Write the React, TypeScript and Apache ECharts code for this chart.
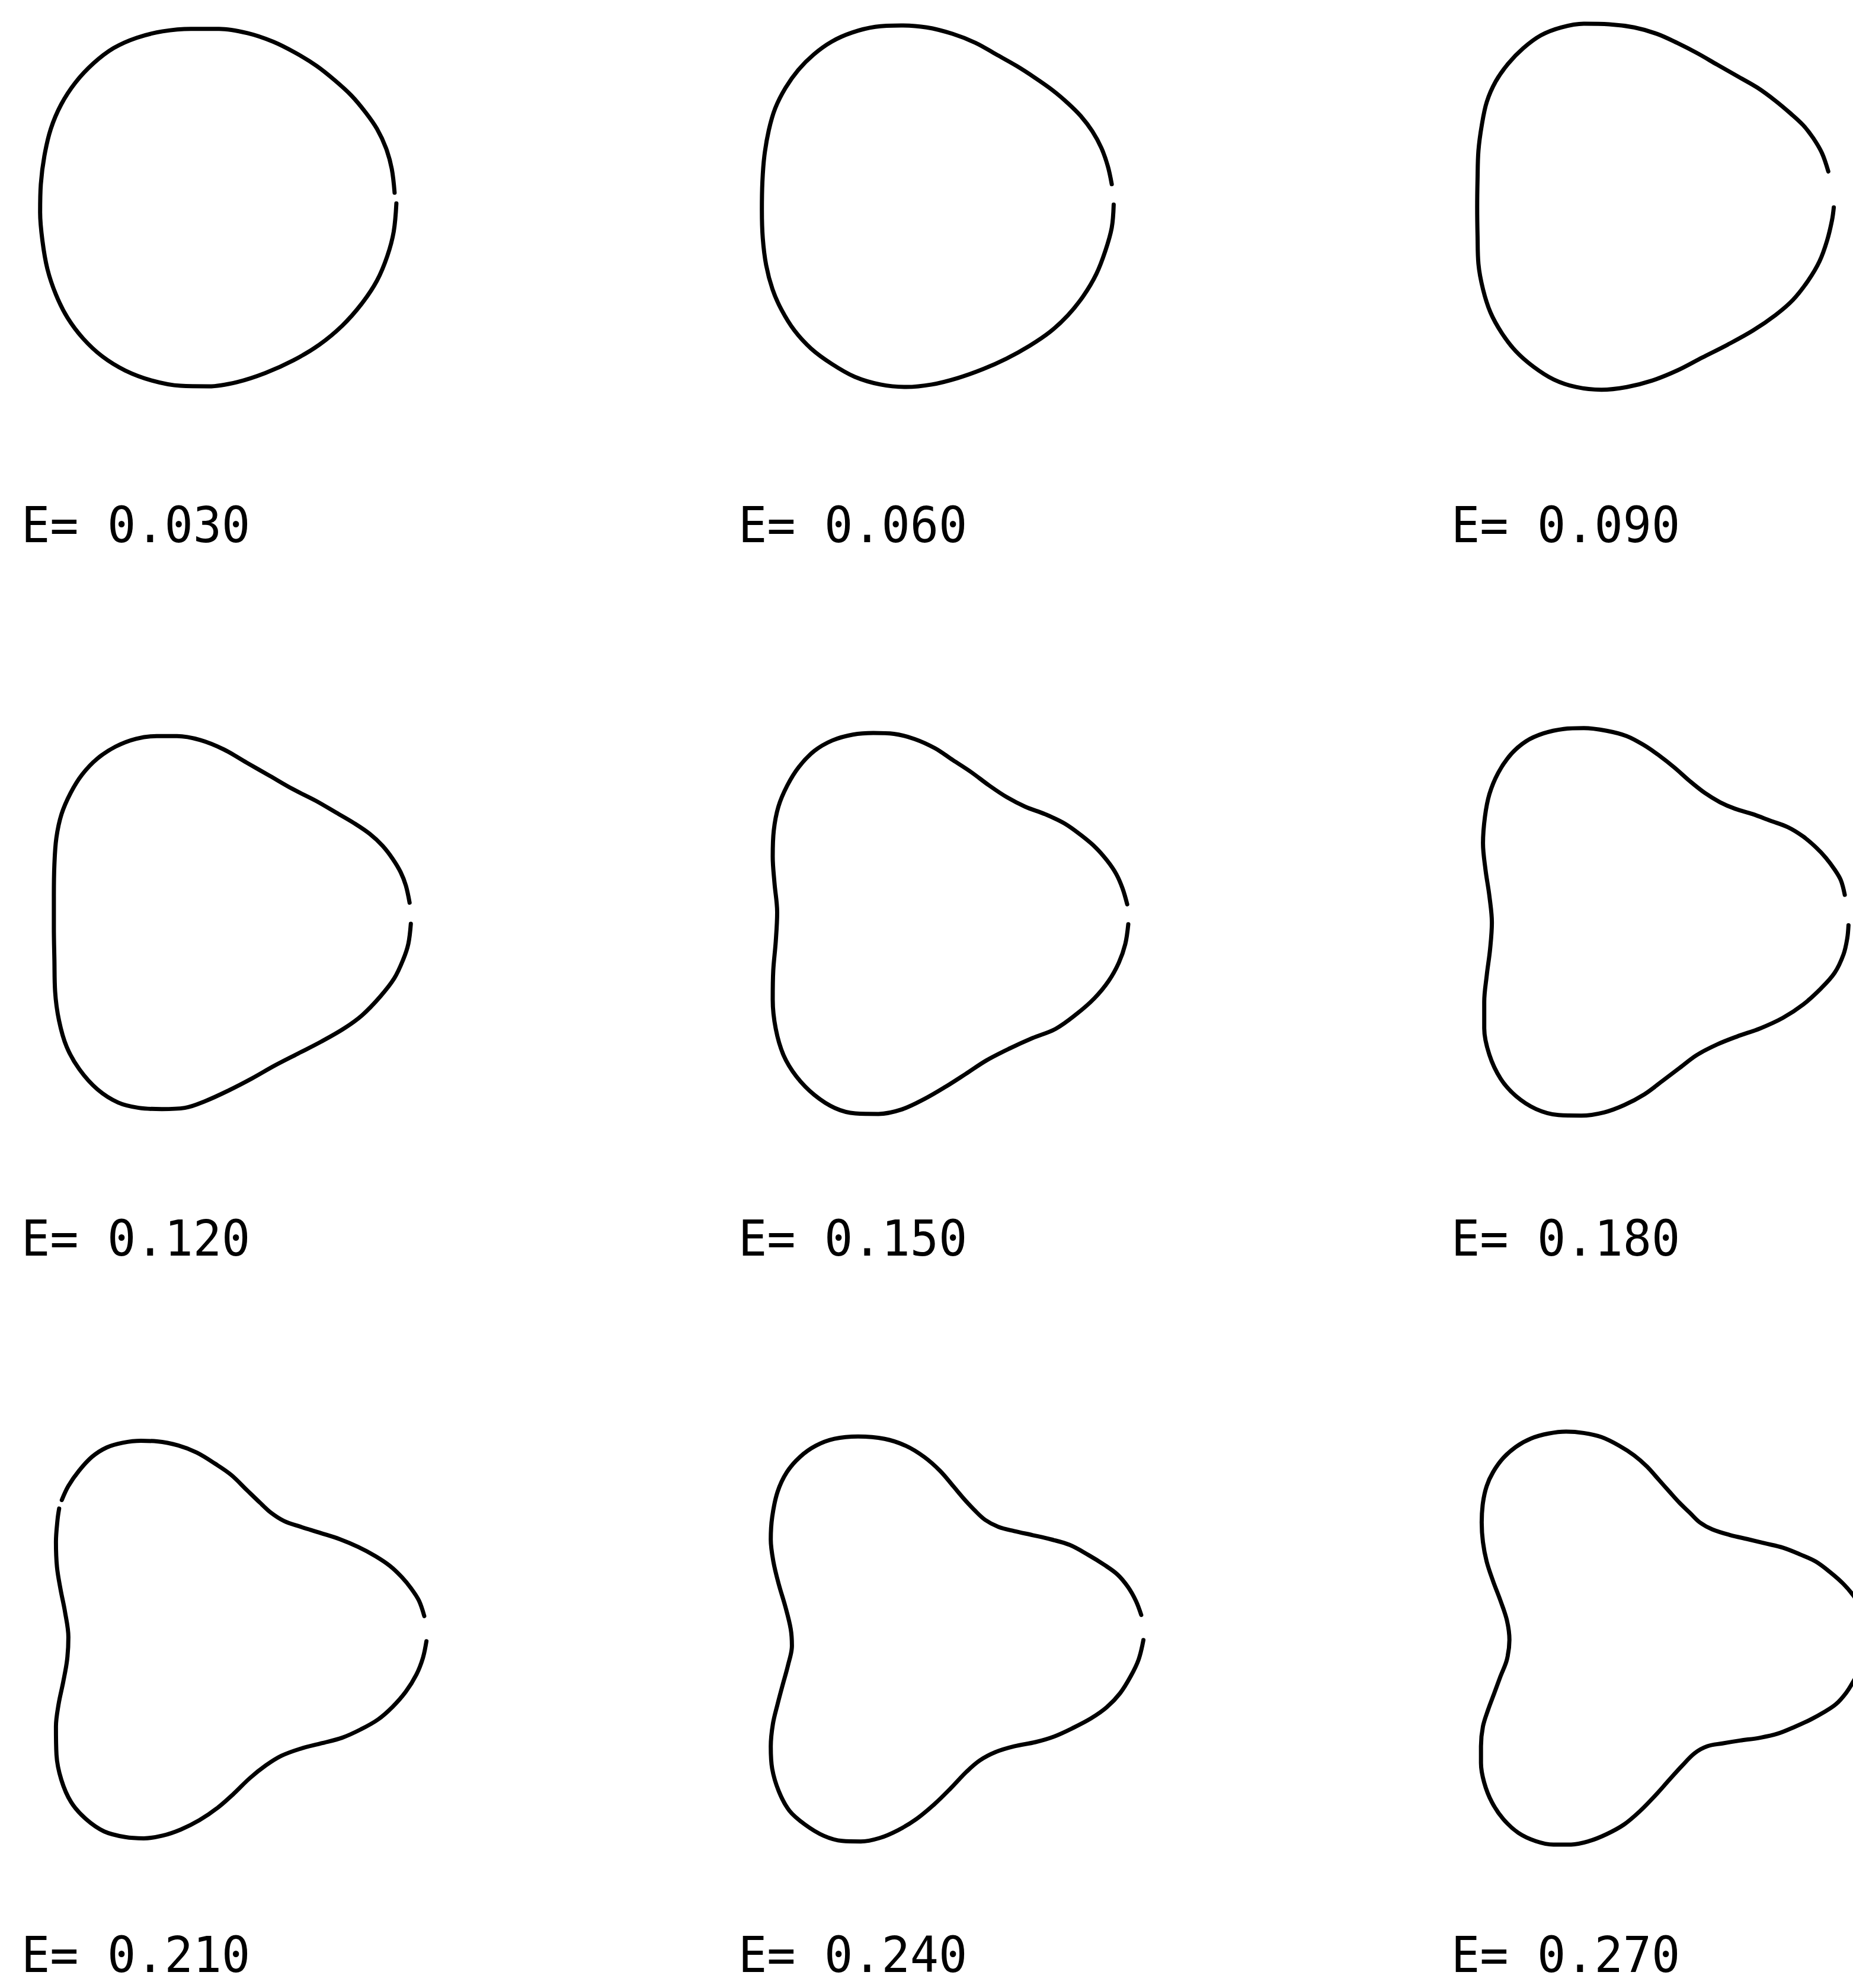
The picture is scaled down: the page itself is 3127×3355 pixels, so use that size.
import React, { useEffect, useRef } from "react";
import * as echarts from "echarts";

// Deformation parameter of each contour, one panel per value
const energies = [0.03, 0.06, 0.09, 0.12, 0.15, 0.18, 0.21, 0.24, 0.27];
const labels = energies.map((e) => `E= ${e.toFixed(3)}`);

// Contour points [x, y]; each trace starts just above the +x axis and runs counter-clockwise.
// A "-" entry marks a break in the pen stroke.
const contourE030 = [
  [0.993, 0.079], [0.977, 0.214], [0.945, 0.329], [0.894, 0.438], [0.829, 0.532], [0.75, 0.626],
  [0.656, 0.712], [0.555, 0.792], [0.439, 0.864], [0.309, 0.929], [0.165, 0.977], [0.006, 1.001],
  [-0.153, 1.001], [-0.312, 0.987], [-0.457, 0.951], [-0.587, 0.893], [-0.702, 0.806], [-0.803, 0.698],
  [-0.883, 0.575], [-0.941, 0.438], [-0.977, 0.286], [-0.997, 0.127], [-1.001, -0.032], [-0.988, -0.191],
  [-0.96, -0.35], [-0.912, -0.494], [-0.847, -0.624], [-0.76, -0.74], [-0.652, -0.841], [-0.522, -0.921],
  [-0.37, -0.978], [-0.211, -1.007], [-0.052, -1.01], [0.107, -0.986], [0.266, -0.935], [0.425, -0.863],
  [0.569, -0.776], [0.699, -0.668], [0.808, -0.545], [0.894, -0.415], [0.952, -0.277], [0.988, -0.14],
  [1.003, 0.019],
];

const contourE060 = [
  [0.977, 0.124], [0.955, 0.225], [0.919, 0.327], [0.868, 0.421], [0.803, 0.507], [0.731, 0.579],
  [0.645, 0.652], [0.543, 0.724], [0.442, 0.789], [0.327, 0.854], [0.211, 0.919], [0.081, 0.97],
  [-0.064, 1.006], [-0.208, 1.017], [-0.353, 1.009], [-0.483, 0.977], [-0.598, 0.926], [-0.699, 0.854],
  [-0.786, 0.767], [-0.858, 0.666], [-0.916, 0.551], [-0.952, 0.428], [-0.977, 0.283], [-0.988, 0.139],
  [-0.991, -0.02], [-0.986, -0.179], [-0.967, -0.331], [-0.931, -0.468], [-0.88, -0.584], [-0.808, -0.699],
  [-0.714, -0.801], [-0.598, -0.887], [-0.468, -0.96], [-0.324, -1.003], [-0.179, -1.017], [-0.035, -1.003],
  [0.11, -0.967], [0.254, -0.916], [0.384, -0.858], [0.514, -0.786], [0.63, -0.707], [0.731, -0.613],
  [0.818, -0.504], [0.89, -0.382], [0.941, -0.251], [0.977, -0.121], [0.988, 0.009],
];

const contourE090 = [
  [0.971, 0.199], [0.936, 0.301], [0.886, 0.387], [0.829, 0.46], [0.759, 0.525], [0.673, 0.597],
  [0.574, 0.669], [0.461, 0.734], [0.347, 0.799], [0.234, 0.864], [0.121, 0.922], [0.007, 0.973],
  [-0.121, 1.009], [-0.262, 1.027], [-0.404, 1.03], [-0.532, 1.009], [-0.645, 0.965], [-0.744, 0.893],
  [-0.829, 0.806], [-0.9, 0.705], [-0.95, 0.59], [-0.978, 0.46], [-0.997, 0.315], [-1.002, 0.156],
  [-1.004, -0.003], [-1.002, -0.162], [-0.997, -0.321], [-0.971, -0.465], [-0.929, -0.595], [-0.865, -0.711],
  [-0.787, -0.812], [-0.688, -0.899], [-0.574, -0.971], [-0.447, -1.014], [-0.305, -1.029], [-0.163, -1.014],
  [-0.021, -0.978], [0.121, -0.921], [0.262, -0.848], [0.404, -0.776], [0.546, -0.697], [0.673, -0.61],
  [0.773, -0.523], [0.858, -0.415], [0.922, -0.306], [0.964, -0.191], [0.992, -0.075], [1.002, -0.003],
];

const contourE120 = [
  [0.994, 0.112], [0.973, 0.208], [0.944, 0.283], [0.9, 0.357], [0.842, 0.432], [0.77, 0.499],
  [0.684, 0.558], [0.582, 0.618], [0.467, 0.685], [0.337, 0.751], [0.207, 0.826], [0.077, 0.9],
  [-0.053, 0.975], [-0.184, 1.027], [-0.314, 1.049], [-0.429, 1.049], [-0.545, 1.034], [-0.66, 0.99],
  [-0.762, 0.923], [-0.848, 0.833], [-0.913, 0.729], [-0.964, 0.61], [-0.993, 0.476], [-1.004, 0.327],
  [-1.007, 0.149], [-1.007, -0.03], [-1.004, -0.208], [-1.0, -0.387], [-0.978, -0.551], [-0.935, -0.699],
  [-0.863, -0.826], [-0.762, -0.938], [-0.646, -1.012], [-0.53, -1.042], [-0.4, -1.049], [-0.27, -1.042],
  [-0.155, -1.004], [-0.025, -0.945], [0.105, -0.878], [0.236, -0.804], [0.366, -0.737], [0.496, -0.67],
  [0.626, -0.595], [0.727, -0.521], [0.828, -0.417], [0.908, -0.313], [0.958, -0.208], [0.987, -0.119],
  [1.001, -0.007],
];

const contourE150 = [
  [0.994, 0.106], [0.968, 0.195], [0.932, 0.277], [0.882, 0.351], [0.816, 0.426], [0.737, 0.493],
  [0.643, 0.56], [0.535, 0.612], [0.419, 0.656], [0.318, 0.708], [0.217, 0.775], [0.116, 0.85],
  [0.014, 0.917], [-0.087, 0.984], [-0.202, 1.036], [-0.318, 1.065], [-0.434, 1.07], [-0.549, 1.061],
  [-0.665, 1.028], [-0.766, 0.969], [-0.853, 0.879], [-0.918, 0.775], [-0.968, 0.656], [-0.994, 0.522],
  [-1.0, 0.374], [-0.99, 0.225], [-0.975, 0.061], [-0.983, -0.103], [-0.997, -0.266], [-1.0, -0.43],
  [-0.983, -0.594], [-0.939, -0.743], [-0.867, -0.862], [-0.766, -0.966], [-0.65, -1.04], [-0.535, -1.07],
  [-0.405, -1.073], [-0.275, -1.048], [-0.145, -0.988], [-0.029, -0.921], [0.087, -0.847], [0.202, -0.772],
  [0.332, -0.705], [0.462, -0.646], [0.592, -0.594], [0.708, -0.512], [0.809, -0.423], [0.889, -0.326],
  [0.947, -0.222], [0.983, -0.118], [1.0, -0.006],
];

const contourE180 = [
  [1.007, 0.153], [0.985, 0.235], [0.95, 0.295], [0.9, 0.362], [0.844, 0.421], [0.773, 0.481],
  [0.688, 0.533], [0.588, 0.57], [0.489, 0.607], [0.39, 0.637], [0.305, 0.674], [0.22, 0.726],
  [0.135, 0.793], [0.05, 0.868], [-0.035, 0.935], [-0.121, 0.994], [-0.22, 1.046], [-0.333, 1.076],
  [-0.461, 1.091], [-0.574, 1.086], [-0.688, 1.061], [-0.787, 1.016], [-0.872, 0.942], [-0.943, 0.838],
  [-0.992, 0.719], [-1.017, 0.592], [-1.028, 0.443], [-1.014, 0.295], [-0.992, 0.146], [-0.978, -0.003],
  [-0.988, -0.152], [-1.007, -0.301], [-1.021, -0.449], [-1.021, -0.598], [-0.992, -0.747], [-0.929, -0.881],
  [-0.844, -0.978], [-0.73, -1.052], [-0.603, -1.086], [-0.475, -1.089], [-0.347, -1.071], [-0.234, -1.03],
  [-0.121, -0.97], [-0.021, -0.896], [0.078, -0.821], [0.177, -0.747], [0.291, -0.688], [0.404, -0.643],
  [0.532, -0.598], [0.659, -0.539], [0.773, -0.464], [0.872, -0.375], [0.95, -0.286], [1.0, -0.182],
  [1.021, -0.092], [1.028, -0.018],
];

const contourE210: (number[] | string)[] = [
  [1.03, 0.132], [1.0, 0.219], [0.955, 0.289], [0.903, 0.352], [0.836, 0.415], [0.754, 0.47],
  [0.658, 0.521], [0.554, 0.565], [0.449, 0.599], [0.33, 0.636], [0.241, 0.667], [0.167, 0.714],
  [0.107, 0.769], [0.033, 0.84], [-0.057, 0.927], [-0.146, 0.989], [-0.25, 1.052], [-0.354, 1.092],
  [-0.473, 1.115], [-0.563, 1.118], [-0.667, 1.107], [-0.756, 1.081], [-0.838, 1.029], [-0.912, 0.95],
  [-0.972, 0.864], [-1.009, 0.785], "-", [-1.024, 0.737], [-1.033, 0.675], [-1.042, 0.549], [-1.036, 0.407],
  [-1.016, 0.282], [-0.991, 0.156], [-0.972, 0.014], [-0.979, -0.112], [-1.001, -0.238], [-1.027, -0.363],
  [-1.042, -0.489], [-1.039, -0.647], [-1.012, -0.788], [-0.957, -0.914], [-0.875, -1.008], [-0.771, -1.079],
  [-0.652, -1.111], [-0.548, -1.118], [-0.443, -1.103], [-0.339, -1.068], [-0.235, -1.016], [-0.131, -0.945],
  [-0.042, -0.867], [0.048, -0.78], [0.137, -0.709], [0.226, -0.654], [0.33, -0.615], [0.449, -0.584],
  [0.568, -0.552], [0.673, -0.505], [0.769, -0.45], [0.851, -0.379], [0.926, -0.293], [0.985, -0.198],
  [1.022, -0.104], [1.042, -0.009],
];

const contourE240 = [
  [1.033, 0.135], [1.003, 0.214], [0.958, 0.293], [0.899, 0.363], [0.824, 0.418], [0.735, 0.473],
  [0.631, 0.529], [0.527, 0.56], [0.423, 0.584], [0.318, 0.607], [0.229, 0.631], [0.155, 0.67],
  [0.095, 0.725], [0.036, 0.788], [-0.024, 0.859], [-0.098, 0.945], [-0.188, 1.024], [-0.292, 1.087],
  [-0.411, 1.126], [-0.56, 1.139], [-0.693, 1.126], [-0.798, 1.087], [-0.887, 1.024], [-0.961, 0.938],
  [-1.013, 0.827], [-1.043, 0.686], [-1.051, 0.56], [-1.036, 0.434], [-1.006, 0.308], [-0.969, 0.182],
  [-0.939, 0.057], [-0.932, -0.038], [-0.954, -0.148], [-0.984, -0.258], [-1.013, -0.368], [-1.039, -0.478],
  [-1.051, -0.604], [-1.043, -0.73], [-1.006, -0.856], [-0.946, -0.966], [-0.857, -1.045], [-0.753, -1.107],
  [-0.649, -1.136], [-0.545, -1.139], [-0.44, -1.12], [-0.336, -1.076], [-0.232, -1.013], [-0.128, -0.927],
  [-0.039, -0.84], [0.051, -0.746], [0.125, -0.683], [0.214, -0.636], [0.318, -0.604], [0.438, -0.58],
  [0.542, -0.549], [0.646, -0.502], [0.75, -0.447], [0.839, -0.384], [0.914, -0.305], [0.973, -0.211],
  [1.018, -0.116], [1.045, -0.006],
];

const contourE270 = [
  [1.097, 0.083], [1.069, 0.161], [1.017, 0.24], [0.963, 0.303], [0.892, 0.366], [0.807, 0.429],
  [0.722, 0.468], [0.622, 0.507], [0.523, 0.531], [0.424, 0.555], [0.325, 0.578], [0.225, 0.61],
  [0.155, 0.649], [0.098, 0.704], [0.041, 0.759], [-0.016, 0.822], [-0.072, 0.885], [-0.143, 0.964],
  [-0.214, 1.026], [-0.299, 1.081], [-0.398, 1.129], [-0.498, 1.152], [-0.597, 1.16], [-0.696, 1.149],
  [-0.795, 1.121], [-0.88, 1.074], [-0.951, 1.011], [-1.008, 0.932], [-1.044, 0.853], [-1.065, 0.759],
  [-1.072, 0.649], [-1.065, 0.539], [-1.044, 0.429], [-1.008, 0.319], [-0.966, 0.208], [-0.93, 0.098],
  [-0.916, -0.012], [-0.93, -0.122], [-0.966, -0.216], [-1.001, -0.311], [-1.036, -0.405], [-1.065, -0.499],
  [-1.076, -0.61], [-1.076, -0.704], [-1.058, -0.814], [-1.015, -0.924], [-0.951, -1.019], [-0.866, -1.097],
  [-0.767, -1.144], [-0.668, -1.163], [-0.569, -1.163], [-0.469, -1.144], [-0.37, -1.105], [-0.271, -1.05],
  [-0.186, -0.979], [-0.101, -0.893], [-0.016, -0.798], [0.055, -0.72], [0.126, -0.649], [0.197, -0.61],
  [0.282, -0.594], [0.381, -0.578], [0.495, -0.562], [0.594, -0.539], [0.693, -0.499], [0.778, -0.46],
  [0.849, -0.421], [0.92, -0.374], [0.977, -0.311], [1.017, -0.248], [1.076, -0.138], [1.102, -0.012],
];

const contours = [
  contourE030, contourE060, contourE090,
  contourE120, contourE150, contourE180,
  contourE210, contourE240, contourE270,
];

// Page layout (pixels)
const PAGE_W = 3127;
const PAGE_H = 3355;
const PX_PER_UNIT = 300;
const MAX_HALF_RANGE = 1.25;
const panelCenters = [
  [368, 349], [1583, 348], [2794, 349],
  [393, 1557], [1604, 1558], [2811, 1556],
  [407, 2767], [1616, 2766], [2822, 2764],
];
const labelLeft = [36, 1246, 2449];
const labelMidY = [886, 2090, 3299];

// Axis extents per panel: as wide as allowed while the grid box stays inside the page
function panelExtent(cx: number, cy: number) {
  const xMin = -Math.min(MAX_HALF_RANGE, cx / PX_PER_UNIT);
  const xMax = Math.min(MAX_HALF_RANGE, (PAGE_W - cx) / PX_PER_UNIT);
  const yMax = Math.min(MAX_HALF_RANGE, cy / PX_PER_UNIT);
  const yMin = -Math.min(MAX_HALF_RANGE, (PAGE_H - cy) / PX_PER_UNIT);
  return { xMin, xMax, yMin, yMax };
}

export default function App() {
  const ref = useRef<HTMLDivElement>(null);

  useEffect(() => {
    document.body.style.margin = "0";
    const chart = echarts.init(ref.current!, null, { renderer: "svg" });
    const extents = panelCenters.map(([cx, cy]) => panelExtent(cx, cy));

    const grid = panelCenters.map(([cx, cy], i) => {
      const { xMin, xMax, yMin, yMax } = extents[i];
      return {
        left: cx + xMin * PX_PER_UNIT,
        top: cy - yMax * PX_PER_UNIT,
        width: (xMax - xMin) * PX_PER_UNIT,
        height: (yMax - yMin) * PX_PER_UNIT,
        containLabel: false,
      };
    });
    const xAxis = extents.map((e, i) => ({
      type: "value" as const,
      gridIndex: i,
      min: e.xMin,
      max: e.xMax,
      show: false,
    }));
    const yAxis = extents.map((e, i) => ({
      type: "value" as const,
      gridIndex: i,
      min: e.yMin,
      max: e.yMax,
      show: false,
    }));
    const series = contours.map((pts, i) => ({
      type: "line" as const,
      name: labels[i],
      xAxisIndex: i,
      yAxisIndex: i,
      data: pts,
      smooth: 0.35,
      connectNulls: false,
      symbol: "none",
      showSymbol: false,
      clip: false,
      silent: true,
      lineStyle: { color: "#000", width: 7, cap: "round", join: "round" },
    }));
    const texts = labels.map((t, i) => ({
      type: "text" as const,
      x: labelLeft[i % 3],
      y: labelMidY[Math.floor(i / 3)],
      scaleX: 0.955,
      silent: true,
      style: {
        text: t,
        font: "84px 'DejaVu Sans Mono', 'Liberation Mono', monospace",
        fill: "#000",
        textAlign: "left",
        textVerticalAlign: "middle",
      },
    }));

    chart.setOption({
      animation: false,
      backgroundColor: "#ffffff",
      grid,
      xAxis,
      yAxis,
      series,
      graphic: texts,
    });
    return () => chart.dispose();
  }, []);

  return (
    <div
      ref={ref}
      style={{ position: "absolute", left: 0, top: 0, width: PAGE_W, height: PAGE_H, background: "#fff" }}
    />
  );
}
